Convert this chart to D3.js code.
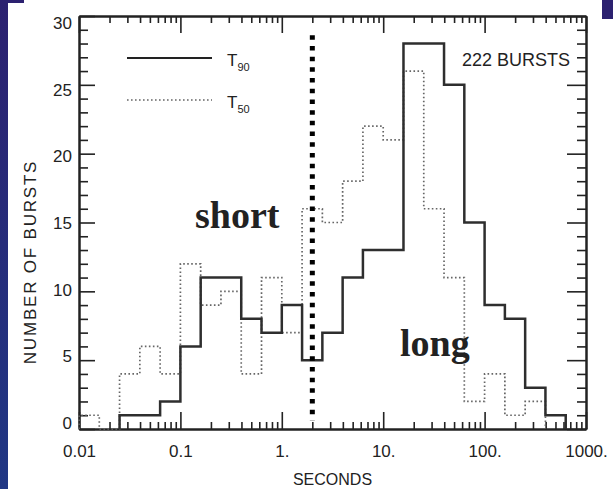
<!DOCTYPE html>
<html>
<head>
<meta charset="utf-8">
<script src="https://cdn.jsdelivr.net/npm/d3@7"></script>
<style>
  body { margin: 0; background: #fff; }
  svg { display: block; }
  text { font-family: "Liberation Sans", Arial, sans-serif; fill: #222; }
</style>
</head>
<body>
<div id="chart"></div>
<script>
// bin edges in log10(seconds), 0.2 decade wide
var logEdges = [-2.0, -1.8, -1.6, -1.4, -1.2, -1.0, -0.8, -0.6, -0.4, -0.2, 0.0, 0.2,
                0.4, 0.6, 0.8, 1.0, 1.2, 1.4, 1.6, 1.8, 2.0, 2.2, 2.4, 2.6, 2.8]
// counts per bin
var t90Counts = [0, 0, 1, 1, 2, 6, 11, 11, 8, 7, 9, 5, 7, 11, 13, 13, 28, 28, 25, 15, 9, 8, 3, 1]
var t50Counts = [1, 0, 4, 6, 4, 12, 9, 10, 4, 11, 7, 16, 15, 18, 22, 21, 26, 16, 11, 2, 4, 1, 2, 0]

var xTickValues = [0.01, 0.1, 1, 10, 100, 1000]
var xTickLabels = ["0.01", "0.1", "1.", "10.", "100.", "1000."]
var yTickValues = [0, 5, 10, 15, 20, 25, 30]
var splitSeconds = 2
var totalLabel = "222 BURSTS"

var W = 613, H = 489
var margin = { top: 16, right: 27, bottom: 60, left: 79 }
var width = W - margin.left - margin.right
var height = H - margin.top - margin.bottom

var root = d3.select("#chart").append("svg")
  .attr("width", W)
  .attr("height", H)

// slide background bits
var grad = root.append("defs").append("linearGradient")
  .attr("id", "navy").attr("x1", 0).attr("y1", 0).attr("x2", 0).attr("y2", 1)
grad.append("stop").attr("offset", 0).attr("stop-color", "#2c2170")
grad.append("stop").attr("offset", 1).attr("stop-color", "#203784")
root.append("rect").attr("x", 0).attr("y", 0).attr("width", 8).attr("height", H).attr("fill", "url(#navy)")
root.append("rect").attr("x", 0).attr("y", 0).attr("width", 24).attr("height", 3).attr("fill", "#2c2170")
root.append("rect").attr("x", 602).attr("y", 0).attr("width", 11).attr("height", 19).attr("fill", "#2c2170")

var svg = root.append("g")
  .attr("transform", "translate(" + margin.left + "," + margin.top + ")")

var x = d3.scaleLog().domain([0.01, 1000]).range([0, width])
var y = d3.scaleLinear().domain([0, 30]).range([height, 0])
// the printed numbers sit a little inside the end ticks
var yLab = d3.scaleLinear().domain([0, 30]).range([height - 6, 7])
var minorX = x.ticks().filter(function(d) { return xTickValues.indexOf(d) < 0 })
var minorY = d3.range(0, 31).filter(function(d) { return d % 5 != 0 })

function styleAxis(g) {
  g.select(".domain").attr("stroke", "#222").attr("stroke-width", 2)
  g.selectAll(".tick line").attr("stroke", "#222").attr("stroke-width", 1.6)
  g.selectAll("text").style("font-size", "17px").attr("fill", "#222")
}

// bottom
svg.append("g").attr("transform", "translate(0," + height + ")")
  .call(d3.axisBottom(x).tickValues(minorX).tickSizeInner(-7).tickSizeOuter(0).tickFormat(""))
  .call(styleAxis)
svg.append("g").attr("transform", "translate(0," + height + ")")
  .call(d3.axisBottom(x).tickValues(xTickValues).tickSizeInner(-17).tickSizeOuter(0).tickPadding(16)
    .tickFormat(function(d, i) { return xTickLabels[i] }))
  .call(styleAxis)
// top
svg.append("g")
  .call(d3.axisTop(x).tickValues(minorX).tickSizeInner(-7).tickSizeOuter(0).tickFormat(""))
  .call(styleAxis)
svg.append("g")
  .call(d3.axisTop(x).tickValues(xTickValues).tickSizeInner(-17).tickSizeOuter(0).tickFormat(""))
  .call(styleAxis)
// left
svg.append("g")
  .call(d3.axisLeft(y).tickValues(minorY).tickSizeInner(-9).tickSizeOuter(0).tickFormat(""))
  .call(styleAxis)
svg.append("g")
  .call(d3.axisLeft(y).tickValues(yTickValues).tickSizeInner(-16).tickSizeOuter(0).tickFormat(""))
  .call(styleAxis)
svg.append("g").selectAll("text")
  .data(yTickValues).enter()
  .append("text")
  .attr("x", -7)
  .attr("y", function(d) { return yLab(d) })
  .attr("dy", "0.35em")
  .attr("text-anchor", "end")
  .style("font-size", "17px")
  .text(function(d) { return d })
// right
svg.append("g").attr("transform", "translate(" + width + ",0)")
  .call(d3.axisRight(y).tickValues(minorY).tickSizeInner(-9).tickSizeOuter(0).tickFormat(""))
  .call(styleAxis)
svg.append("g").attr("transform", "translate(" + width + ",0)")
  .call(d3.axisRight(y).tickValues(yTickValues).tickSizeInner(-19).tickSizeOuter(0).tickFormat(""))
  .call(styleAxis)

// step outline of a histogram, from first to last non-empty bin
function stepPath(counts) {
  var first = counts.findIndex(function(c) { return c > 0 })
  var last = counts.length - 1
  while (counts[last] == 0) last--
  var p = d3.path()
  p.moveTo(x(Math.pow(10, logEdges[first])), y(0))
  for (var i = first; i <= last; i++) {
    p.lineTo(x(Math.pow(10, logEdges[i])), y(counts[i]))
    p.lineTo(x(Math.pow(10, logEdges[i + 1])), y(counts[i]))
  }
  p.lineTo(x(Math.pow(10, logEdges[last + 1])), y(0))
  return p.toString()
}

svg.append("path")
  .attr("d", stepPath(t50Counts))
  .attr("fill", "none")
  .attr("stroke", "#666")
  .attr("stroke-width", 1.7)
  .attr("stroke-dasharray", "1.6 2.4")

svg.append("path")
  .attr("d", stepPath(t90Counts))
  .attr("fill", "none")
  .attr("stroke", "#2e2e2e")
  .attr("stroke-width", 2.5)

// short / long divider
svg.append("line")
  .attr("x1", x(splitSeconds)).attr("x2", x(splitSeconds))
  .attr("y1", y(28.6)).attr("y2", y(0.6))
  .attr("stroke", "#000")
  .attr("stroke-width", 5)
  .attr("stroke-dasharray", "4.5 6.2")

// legend
var legend = root.append("g")
legend.append("line").attr("x1", 127).attr("x2", 212).attr("y1", 58).attr("y2", 58)
  .attr("stroke", "#222").attr("stroke-width", 2.2)
legend.append("line").attr("x1", 127).attr("x2", 212).attr("y1", 100).attr("y2", 100)
  .attr("stroke", "#666").attr("stroke-width", 1.7).attr("stroke-dasharray", "1.6 2.4")
var l1 = legend.append("text").attr("x", 227).attr("y", 66).style("font-size", "17px")
l1.append("tspan").text("T")
l1.append("tspan").attr("dy", 5).style("font-size", "11px").text("90")
var l2 = legend.append("text").attr("x", 227).attr("y", 108).style("font-size", "17px")
l2.append("tspan").text("T")
l2.append("tspan").attr("dy", 5).style("font-size", "11px").text("50")

root.append("text")
  .attr("x", 570).attr("y", 66)
  .attr("text-anchor", "end")
  .style("font-size", "18px")
  .text(totalLabel)

// axis titles
root.append("text")
  .attr("x", margin.left + x(Math.sqrt(10)) ).attr("y", 485)
  .attr("text-anchor", "middle")
  .style("font-size", "16px")
  .text("SECONDS")
root.append("text")
  .attr("transform", "translate(36,262) rotate(-90)")
  .attr("text-anchor", "middle")
  .style("font-size", "17px")
  .style("letter-spacing", "1.8px")
  .text("NUMBER OF BURSTS")

// annotations
root.append("text")
  .attr("x", 195).attr("y", 228)
  .style("font-family", "'Liberation Serif', 'Times New Roman', serif")
  .style("font-weight", "bold")
  .style("font-size", "38px")
  .attr("fill", "#000")
  .text("short")
root.append("text")
  .attr("x", 400).attr("y", 356)
  .style("font-family", "'Liberation Serif', 'Times New Roman', serif")
  .style("font-weight", "bold")
  .style("font-size", "38px")
  .attr("fill", "#000")
  .text("long")
</script>
</body>
</html>
